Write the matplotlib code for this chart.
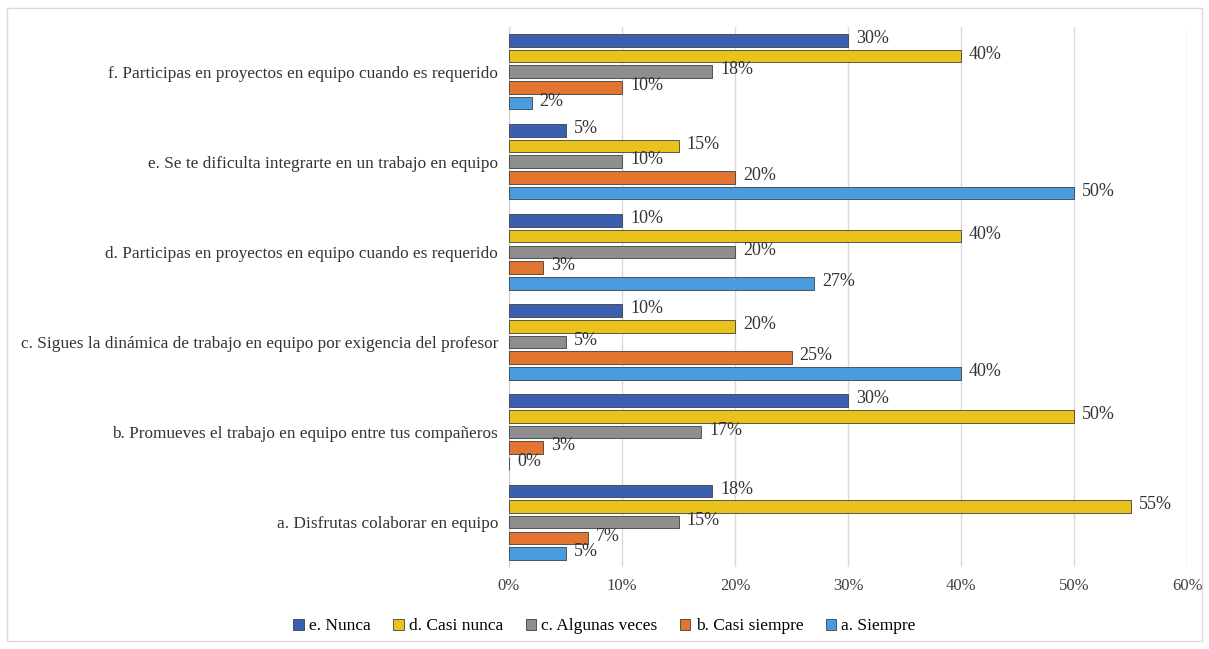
import matplotlib.pyplot as plt
import numpy as np
from matplotlib.patches import Rectangle

plt.rcParams['font.family'] = ['Liberation Serif', 'DejaVu Serif']

categories = [
    "a. Disfrutas colaborar en equipo",
    "b. Promueves el trabajo en equipo entre tus compañeros",
    "c. Sigues la dinámica de trabajo en equipo por exigencia del profesor",
    "d. Participas en proyectos en equipo cuando es requerido",
    "e. Se te dificulta integrarte en un trabajo en equipo",
    "f. Participas en proyectos en equipo cuando es requerido",
]
series_names = ["e. Nunca", "d. Casi nunca", "c. Algunas veces", "b. Casi siempre", "a. Siempre"]
nunca = [18, 30, 10, 10, 5, 30]
casi_nunca = [55, 50, 20, 40, 15, 40]
algunas_veces = [15, 17, 5, 20, 10, 18]
casi_siempre = [7, 3, 25, 3, 20, 10]
siempre = [5, 0, 40, 27, 50, 2]
series_values = [nunca, casi_nunca, algunas_veces, casi_siempre, siempre]
colors = ["#3a5fae", "#e9c31b", "#8e8e8e", "#e2752f", "#4a9ce0"]
x_ticks = [0, 10, 20, 30, 40, 50, 60]

fig = plt.figure(figsize=(12.09, 6.49), dpi=100)
# light frame around the whole chart
fig.patches.append(Rectangle((0.006, 0.012), 0.988, 0.975, transform=fig.transFigure,
                             fill=False, edgecolor="#d9d9d9", linewidth=1))
ax = fig.add_axes([0.421, 0.126, 0.561, 0.833])

y = np.arange(len(categories))
slot = 0.174
bar_h = 0.14
for k, (name, vals, col) in enumerate(zip(series_names, series_values, colors)):
    offset = (2 - k) * slot
    bars = ax.barh(y + offset, vals, height=bar_h, color=col, edgecolor="#404040",
                   linewidth=0.6, label=name, zorder=3)
    for b, v in zip(bars, vals):
        ax.text(b.get_width() + 0.7, b.get_y() + b.get_height() / 2 + 0.02, f"{v}%",
                va="center", ha="left", fontsize=13, color="#333333", zorder=4)

ax.set_xlim(0, 60)
ax.set_ylim(-0.5, len(categories) - 0.5)
ax.set_xticks(x_ticks)
ax.set_xticklabels([f"{t}%" for t in x_ticks], fontsize=12, color="#404040")
ax.set_yticks(y)
ax.set_yticklabels(categories, fontsize=12.4, color="#333333")
ax.tick_params(axis="both", length=0, pad=8)
ax.grid(axis="x", color="#d9d9d9", linewidth=1, zorder=0)
for s in ["top", "right", "bottom"]:
    ax.spines[s].set_visible(False)
ax.spines["left"].set_color("#d0d0d0")

handles, labels = ax.get_legend_handles_labels()
fig.legend(handles, labels, loc="center", bbox_to_anchor=(0.5, 0.035), ncol=5,
           frameon=False, fontsize=12.5, handlelength=0.6, handleheight=0.6,
           handletextpad=0.3, columnspacing=1.3)

plt.savefig("out.png", dpi=100)
